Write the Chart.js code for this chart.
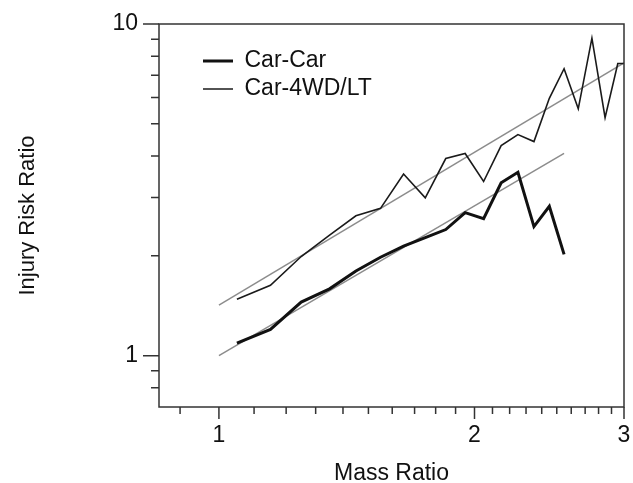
<!DOCTYPE html>
<html>
<head>
<meta charset="utf-8">
<script src="https://cdn.jsdelivr.net/npm/chart.js@4/dist/chart.umd.min.js"></script>
<style>
  body { margin: 0; background: #fff; }
  canvas { display: block; }
</style>
</head>
<body>
<canvas id="chart" width="633" height="483"></canvas>
<script>
/* =========================
   DATOS
========================= */
// mass ratio for each observed point
const massRatio = [1.05, 1.15, 1.25, 1.35, 1.45, 1.55, 1.65, 1.75, 1.85, 1.95,
                   2.05, 2.15, 2.25, 2.35, 2.45, 2.55, 2.65, 2.75, 2.85, 2.95, 3.05];

const carCar = [1.09, 1.20, 1.45, 1.59, 1.80, 1.98, 2.14, 2.27, 2.40, 2.70,
                2.59, 3.32, 3.57, 2.45, 2.82, 2.02];

const car4wd = [1.48, 1.63, 1.99, 2.31, 2.64, 2.78, 3.53, 2.99, 3.93, 4.07,
                3.35, 4.30, 4.64, 4.42, 5.97, 7.33, 5.55, 9.06, 5.22, 7.60, 7.60];

// fitted lines (two end points each)
const carCarFitX = [1, 2.55];
const carCarFitY = [1.0, 4.07];
const car4wdFitX = [1, 3];
const car4wdFitY = [1.42, 7.64];

// ticks
const xTicks = [0.9, 1, 1.1, 1.2, 1.3, 1.4, 1.5, 1.6, 1.7, 1.8, 1.9, 2,
                2.1, 2.2, 2.3, 2.4, 2.5, 2.6, 2.7, 2.8, 2.9, 3];
const xLabels = [1, 2, 3];
const yTicks = [0.8, 0.9, 1, 2, 3, 4, 5, 6, 7, 8, 9, 10];
const yLabels = [1, 10];

/* =========================
   UTILIDADES
========================= */
function points(xs, ys) {
  return ys.map((v, i) => ({ x: xs[i], y: v }));
}

const FONT = "'Liberation Sans', Arial, Helvetica, sans-serif";

// frame + outward tick marks (major longer than minor)
const frameAndTicks = {
  id: 'frameAndTicks',
  afterLayout(chart) {
    // legend sits inside the plot, top-left
    const a = chart.chartArea;
    chart.legend.left = a.left + 39;
    chart.legend.top = a.top + 20.5;
  },
  afterDraw(chart) {
    const { ctx, chartArea: a, scales: { x, y } } = chart;
    ctx.save();
    ctx.strokeStyle = '#333';
    ctx.lineWidth = 1.5;
    ctx.strokeRect(a.left, a.top, a.right - a.left, a.bottom - a.top);
    ctx.beginPath();
    xTicks.forEach(v => {
      const px = x.getPixelForValue(v);
      const len = xLabels.includes(v) ? 12 : 7;
      ctx.moveTo(px, a.bottom);
      ctx.lineTo(px, a.bottom + len);
    });
    yTicks.forEach(v => {
      const py = y.getPixelForValue(v);
      const len = yLabels.includes(v) ? 16 : 8;
      ctx.moveTo(a.left, py);
      ctx.lineTo(a.left - len, py);
    });
    ctx.stroke();
    ctx.restore();
  }
};

/* =========================
   GRÁFICO
========================= */
new Chart(document.getElementById('chart').getContext('2d'), {
  type: 'line',
  data: {
    datasets: [
      {
        label: 'Car-Car',
        data: points(massRatio, carCar),
        borderColor: '#111',
        borderWidth: 3
      },
      {
        label: 'Car-4WD/LT',
        data: points(massRatio, car4wd),
        borderColor: '#1a1a1a',
        borderWidth: 1.6
      },
      {
        label: 'fit Car-Car',
        data: points(carCarFitX, carCarFitY),
        borderColor: '#8c8c8c',
        borderWidth: 1.5
      },
      {
        label: 'fit Car-4WD/LT',
        data: points(car4wdFitX, car4wdFitY),
        borderColor: '#8c8c8c',
        borderWidth: 1.5
      }
    ]
  },
  options: {
    responsive: false,
    animation: false,
    devicePixelRatio: 1,
    layout: { padding: { top: 24, right: 9, left: 0, bottom: 0 } },
    elements: {
      point: { radius: 0 },
      line: { tension: 0, fill: false }
    },
    plugins: {
      tooltip: { enabled: false },
      legend: {
        position: 'chartArea',
        align: 'start',
        labels: {
          usePointStyle: true,
          pointStyle: 'line',
          pointStyleWidth: 30,
          padding: 5,
          color: '#111',
          font: { family: FONT, size: 23 },
          filter: item => item.datasetIndex < 2
        }
      }
    },
    scales: {
      x: {
        type: 'logarithmic',
        min: 0.85,
        max: 3,
        afterBuildTicks: s => { s.ticks = xTicks.map(v => ({ value: v })); },
        afterFit: s => { s.height = 76; s.paddingLeft = 0; s.paddingRight = 0; },
        grid: { display: false, drawTicks: false },
        border: { display: false },
        ticks: {
          autoSkip: false,
          maxRotation: 0,
          padding: 15,
          color: '#111',
          font: { family: FONT, size: 23 },
          callback: v => xLabels.includes(v) ? String(v) : ''
        },
        title: {
          display: true,
          text: 'Mass Ratio',
          color: '#111',
          font: { family: FONT, size: 23, lineHeight: 1 },
          padding: { top: 4, bottom: -2 }
        }
      },
      y: {
        type: 'logarithmic',
        min: 0.725,
        max: 10,
        afterBuildTicks: s => { s.ticks = yTicks.map(v => ({ value: v })); },
        afterFit: s => { s.width = 159; s.paddingTop = 0; s.paddingBottom = 0; },
        grid: { display: false, drawTicks: false },
        border: { display: false },
        ticks: {
          autoSkip: false,
          padding: 21,
          color: '#111',
          font: { family: FONT, size: 23 },
          callback: v => yLabels.includes(v) ? String(v) : ''
        },
        title: {
          display: true,
          text: 'Injury Risk Ratio',
          color: '#111',
          font: { family: FONT, size: 22, lineHeight: 1 },
          padding: { top: 17, bottom: 0 }
        }
      }
    }
  },
  plugins: [frameAndTicks]
});
</script>
</body>
</html>
